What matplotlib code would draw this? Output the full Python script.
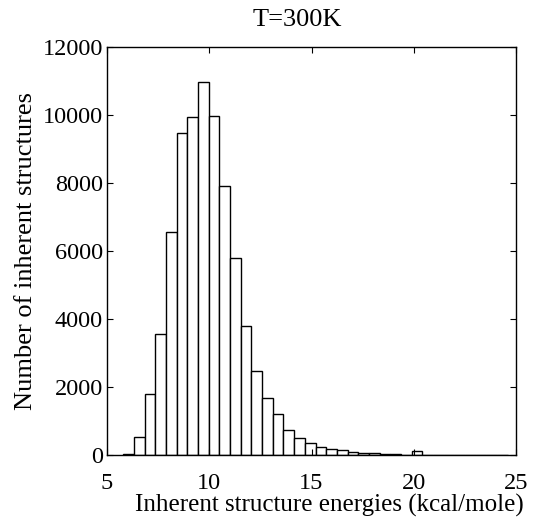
import numpy as np
import matplotlib.pyplot as plt

plt.rcParams['font.family'] = ['Liberation Serif', 'DejaVu Serif']

# histogram
bin_start = 5.80
bin_width = 0.522
counts = [30, 540, 1784, 3549, 6569, 9461, 9931, 10980, 9970, 7902,
          5794, 3804, 2461, 1676, 1206, 725, 510, 350, 225, 167,
          137, 78, 59, 49, 29, 20, 5, 128, 4, 3,
          2, 2, 6, 8, 4, 2]

edges = bin_start + bin_width * np.arange(len(counts) + 1)
centers = (edges[:-1] + edges[1:]) / 2

fig = plt.figure(figsize=(5.34, 5.17), dpi=100)
ax = fig.add_axes([0.2004, 0.1199, 0.7659, 0.7892])

ax.hist(centers, bins=edges, weights=counts, facecolor='white',
        edgecolor='black', linewidth=1.0)

ax.set_xlim(5, 25)
ax.set_ylim(0, 12000)
ax.set_xticks(np.arange(5, 26, 5))
ax.set_yticks(np.arange(0, 12001, 2000))
ax.tick_params(direction='in', top=True, right=True, labelsize=17.5, length=4)
ax.tick_params(axis='x', pad=13)
ax.tick_params(axis='y', pad=3)
for s in ax.spines.values():
    s.set_linewidth(1.0)

ax.set_title("T=300K", fontsize=19, pad=15, x=0.465)
ax.set_xlabel("Inherent structure energies (kcal/mole)", fontsize=18)
ax.xaxis.set_label_coords(0.543, -0.095)
ax.set_ylabel("Number of inherent structures", fontsize=19, labelpad=4)

fig.savefig("out.png", dpi=100)
